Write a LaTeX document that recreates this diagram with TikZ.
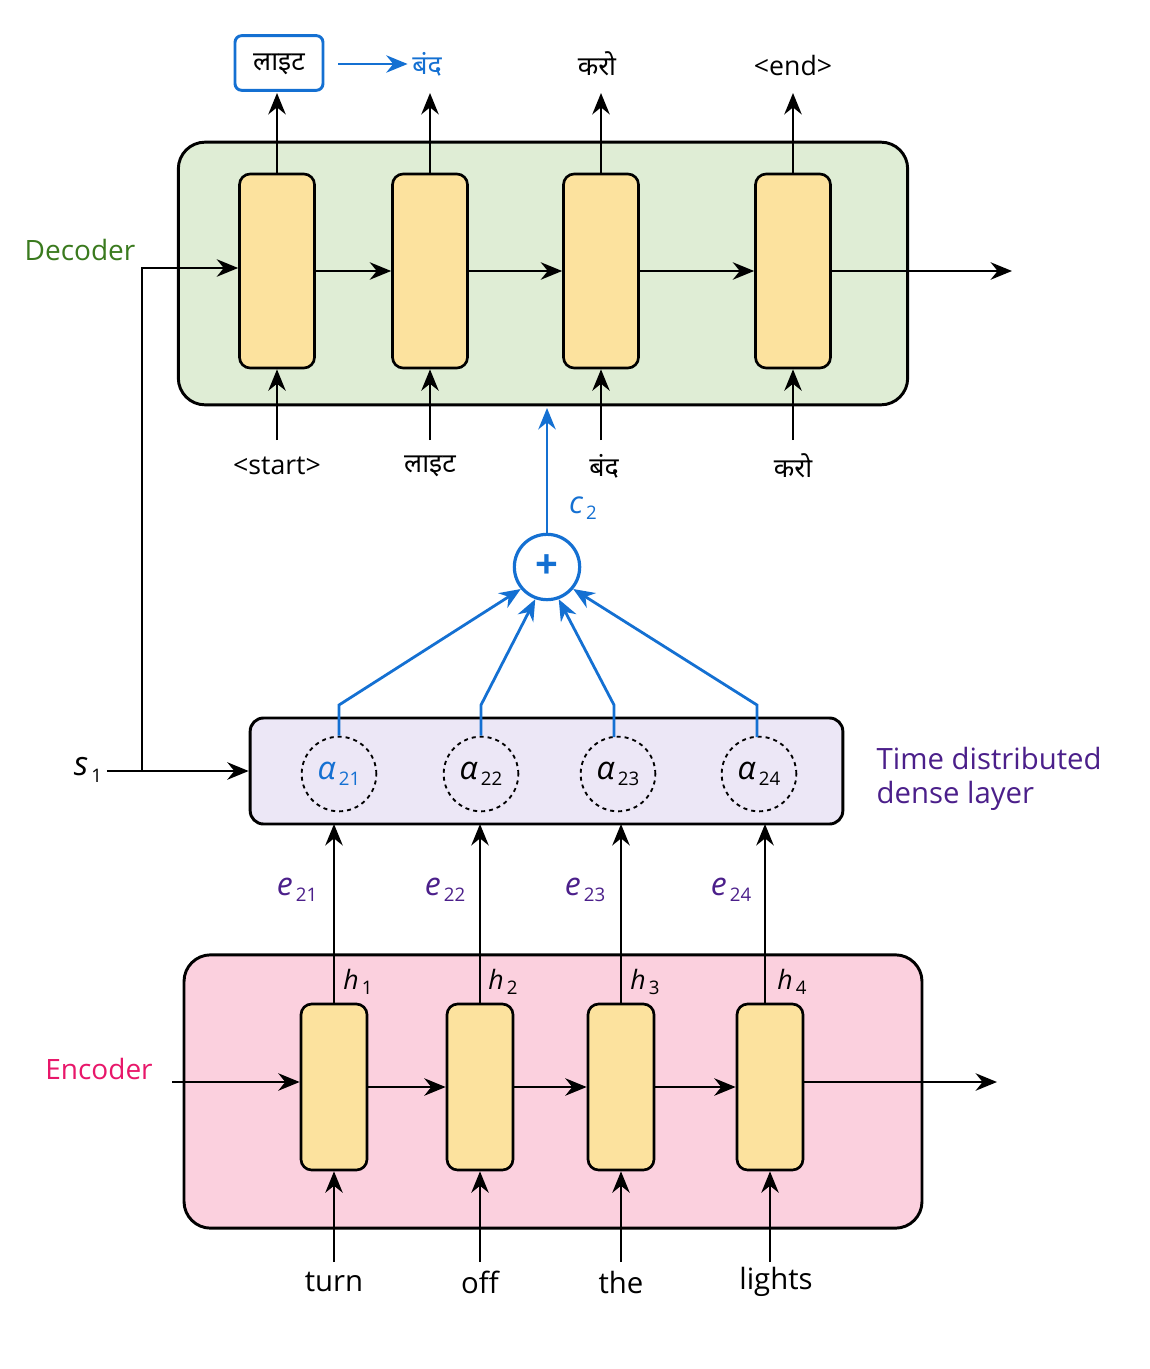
\documentclass[tikz,border=0pt]{standalone}
\usepackage{fontspec}
\setmainfont{Open Sans}
\newfontfamily\dev{Noto Sans}
\usetikzlibrary{arrows.meta}
\newcommand{\vs}[2]{{\itshape #1}\raisebox{-0.35ex}{\fontsize{14}{14}\selectfont\,#2}}
\begin{document}
\begin{tikzpicture}[x=0.75pt,y=-0.75pt,
  ar/.style={-{Stealth[length=16pt,width=13pt]},line width=2.1pt},
  bar/.style={ar,color=myblue},
  cell/.style={draw,line width=2pt,fill=cellc,rounded corners=8pt,minimum width=#1*0.75pt},
  lab/.style={font=\fontsize{20}{23}\selectfont},
]
\definecolor{myblue}{HTML}{1470D2}
\definecolor{cellc}{HTML}{FCE29E}
\definecolor{decf}{HTML}{DFEDD5}
\definecolor{encf}{HTML}{FBD0DE}
\definecolor{attf}{HTML}{ECE7F6}
\definecolor{purp}{HTML}{4B1F8A}
\definecolor{encc}{HTML}{E8176A}
\definecolor{decc}{HTML}{3A7A1E}
\useasboundingbox (0,0) rectangle (1149,1369);
% decoder
\node[draw,line width=2.2pt,fill=decf,rounded corners=20pt,minimum width=547pt,minimum height=197pt] (dec) at (543,273.5) {};
\node[text=decc,font=\fontsize{21}{24}\selectfont] (declab) at (80,250) {Decoder};
\foreach \i/\x in {1/277,2/430,3/601,4/793}{
  \node[cell=75,minimum height=145.5pt] (d\i) at (\x,271) {};
}
\node[lab] (o1) at (279,64) {\dev लाइट};
\node[draw=myblue,line width=2.2pt,rounded corners=5pt,minimum width=66pt,minimum height=41pt] (o1b) at (279,63) {};
\node[lab,text=myblue] (o2) at (427,64) {\dev बंद};
\node[lab] (o3) at (597,64) {\dev करो};
\node[lab] (o4) at (793,66) {<end>};
\coordinate (bs) at (338,64);
\draw[bar] (bs) -- (o2.west);
\foreach \i/\x in {1/277,2/430,3/601,4/793}{
  \coordinate (ot\i) at (\x,93);
  \draw[ar] (d\i.north) -- (ot\i);
}
\node[lab] (i1) at (277,466) {<start>};
\node[lab] (i2) at (430,466) {\dev लाइट};
\node[lab] (i3) at (604,466) {\dev बंद};
\node[lab] (i4) at (793,466) {\dev करो};
\foreach \i/\x in {1/277,2/430,3/601,4/793}{
  \coordinate (ib\i) at (\x,440);
  \draw[ar] (ib\i) -- (d\i.south);
}
\draw[ar] (d1.east) -- (d2.west);
\draw[ar] (d2.east) -- (d3.west);
\draw[ar] (d3.east) -- (d4.west);
\coordinate (dout) at (1012,271);
\draw[ar] (d4.east) -- (dout);
% plus
\node[draw=myblue,circle,line width=2.4pt,minimum size=49pt,inner sep=0pt,text=myblue,font=\fontsize{30}{30}\selectfont\bfseries] (plus) at (547,567) {+};
\coordinate (ctop) at (547,408);
\draw[bar] (plus.north) -- (ctop);
\node[text=myblue,font=\fontsize{23}{23}\selectfont] (c2) at (583,508) {\vs{c}{2}};
% attention
\node[draw,line width=2.2pt,fill=attf,rounded corners=10pt,minimum width=444.5pt,minimum height=79.5pt] (att) at (546.5,771) {};
\foreach \i/\x/\c in {1/339/myblue,2/481/black,3/618/black,4/759/black}{
  \node[draw,dashed,circle,line width=1.4pt,minimum size=56pt,inner sep=0pt,text=\c,font=\fontsize{24}{24}\selectfont] (a\i) at (\x,774) {\vs{α}{2\i}};
}
\coordinate (k1) at (339,705); \coordinate (k2) at (481,705);
\coordinate (k3) at (614,705); \coordinate (k4) at (757,705);
\coordinate (k3b) at (614,737); \coordinate (k4b) at (757,737);
\draw[bar] (a1.north) -- (k1) -- (plus.220);
\draw[bar] (a2.north) -- (k2) -- (plus.250);
\draw[bar] (k3b) -- (k3) -- (plus.290);
\draw[bar] (k4b) -- (k4) -- (plus.320);
\node[text=purp,align=left,anchor=west,font=\fontsize{22}{26}\selectfont] (tdl) at (872,779) {Time distributed\\dense layer};
% s1
\node[font=\fontsize{25}{25}\selectfont] (s1) at (88,770) {\vs{s}{1}};
\coordinate (sj) at (142,771);
\draw[ar] (s1.east |- sj) -- (att.west |- sj);
\draw[ar] (sj) -- (142,268) -- (d1.west |- 0,268);
% encoder
\node[draw,line width=2.2pt,fill=encf,rounded corners=20pt,minimum width=553.5pt,minimum height=205pt] (enc) at (553,1091.5) {};
\node[text=encc,font=\fontsize{21}{24}\selectfont] (enclab) at (99,1069) {Encoder};
\foreach \i/\x in {1/334,2/480,3/621,4/770}{
  \node[cell=66,minimum height=124.5pt] (e\i) at (\x,1087) {};
}
\coordinate (ein) at (172,1082);
\draw[ar] (ein) -- (e1.west |- ein);
\draw[ar] (e1.east) -- (e2.west);
\draw[ar] (e2.east) -- (e3.west);
\draw[ar] (e3.east) -- (e4.west);
\coordinate (eout) at (997,1082);
\draw[ar] (e4.east |- eout) -- (eout);
\foreach \i/\x/\w in {1/334/turn,2/480/off,3/621/the,4/776/lights}{
  \node[font=\fontsize{22}{25}\selectfont] (w\i) at (\x,1282) {\w};
}
\foreach \i/\x in {1/334,2/480,3/621,4/770}{
  \coordinate (wb\i) at (\x,1262);
  \draw[ar] (wb\i) -- (e\i.south);
}
\foreach \i/\x in {1/334,2/480,3/621,4/765}{
  \coordinate (ab\i) at (\x,824);
  \coordinate (as\i) at (\x,1004);
  \draw[ar] (as\i) -- (ab\i);
}
\foreach \i/\x in {1/358,2/503,3/645,4/792}{
  \node[font=\fontsize{20}{20}\selectfont] (h\i) at (\x,982) {\vs{h}{\i}};
}
\foreach \i/\x in {1/297,2/445,3/585,4/731}{
  \node[text=purp,font=\fontsize{24}{24}\selectfont] (el\i) at (\x,890) {\vs{e}{2\i}};
}
\end{tikzpicture}
\end{document}
